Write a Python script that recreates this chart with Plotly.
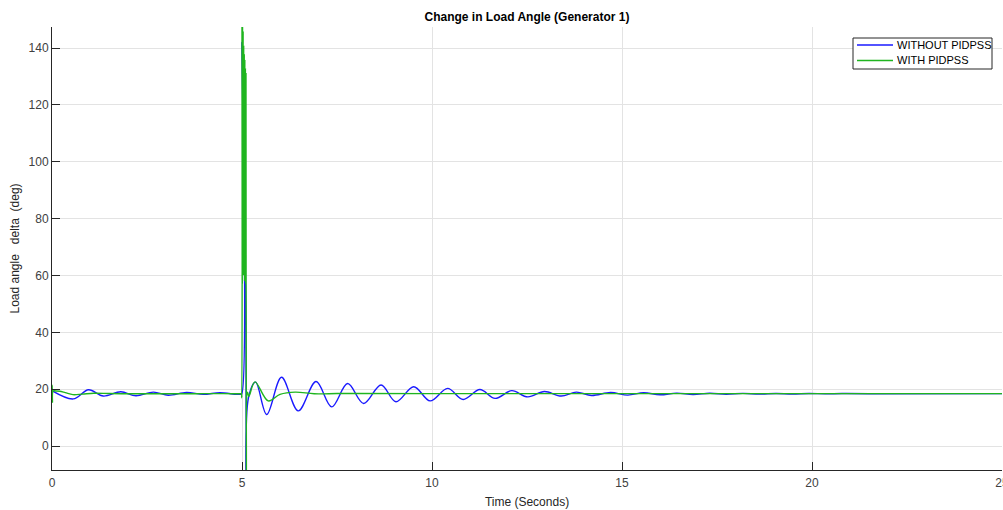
import plotly.graph_objects as go

# ---- data ----
t_without = [0.0, 0.56, 0.96, 1.35, 1.81, 2.21, 2.67, 3.06, 3.54, 3.98, 4.42, 4.86, 4.95, 4.99,
             4.998, 5.05, 5.1, 5.118, 5.17, 5.36, 5.65, 6.04, 6.48, 6.95, 7.36, 7.78, 8.2, 8.66,
             9.05, 9.52, 9.95, 10.41, 10.82, 11.26, 11.66, 12.1, 12.52, 12.96, 13.4, 13.8,
             14.2, 14.7, 15.15, 15.57, 16.0, 16.44, 16.87, 17.31, 17.74, 18.18, 18.61,
             19.05, 19.48, 19.92, 20.35, 20.79, 21.5, 25.0]
v_without = [19.5, 16.6, 19.8, 17.6, 19.1, 17.7, 19.0, 17.9, 18.9, 18.2, 18.8, 18.2, 18.25, 18.3,
             142.0, 90.0, 50.0, -25.0, 17.0, 22.5, 11.1, 24.2, 12.4, 22.7, 13.8, 22.0, 15.0, 21.5,
             15.6, 20.9, 15.9, 20.3, 16.4, 19.9, 16.8, 19.5, 17.3, 19.2, 17.6, 19.0,
             17.8, 18.85, 17.95, 18.75, 18.05, 18.65, 18.15, 18.6, 18.25, 18.55, 18.3,
             18.5, 18.35, 18.5, 18.4, 18.48, 18.42, 18.45]

t_with = [0.0, 0.006, 0.012, 0.03, 0.1, 0.2, 0.35, 0.55, 0.8, 1.1, 1.5, 2.0, 2.5, 3.0, 3.5,
          4.0, 4.5, 4.8, 4.95, 4.985, 4.993,
          5.0, 5.0075, 5.015, 5.0225, 5.03, 5.0375, 5.045, 5.0525, 5.06, 5.0675, 5.075,
          5.0825, 5.09, 5.0975, 5.105, 5.118, 5.145, 5.18, 5.34, 5.69, 6.0, 6.4,
          6.9, 7.5, 8.0, 10.0, 25.0]
v_with = [18.8, 21.4, 15.4, 19.4, 19.4, 19.3, 18.8, 18.1, 18.3, 18.6, 18.5, 18.4, 18.4, 18.4, 18.4,
          18.45, 18.45, 18.4, 18.4, 18.4, 17.0,
          150.0, 57.0, 148.0, 62.0, 146.0, 60.0, 141.0, 65.0, 138.0, 58.0, 136.0,
          62.0, 133.0, 57.0, 131.0, -25.0, 19.0, 17.5, 22.6, 15.9, 18.2, 19.0,
          18.4, 18.5, 18.5, 18.45, 18.45]

x_ticks = [0, 5, 10, 15, 20, 25]
y_ticks = [0, 20, 40, 60, 80, 100, 120, 140]
series_names = ["WITHOUT PIDPSS", "WITH PIDPSS"]
series_colors = ["#1a1aff", "#1fb51f"]

FONT = "Liberation Sans, Arial, Helvetica, sans-serif"
AX = "#262626"
GRID = "#e3e3e3"

fig = go.Figure()
fig.add_trace(go.Scatter(x=t_without, y=v_without, mode="lines", name=series_names[0],
                         showlegend=False,
                         line=dict(color=series_colors[0], width=1.4, shape="spline")))
fig.add_trace(go.Scatter(x=t_with, y=v_with, mode="lines", name=series_names[1],
                         showlegend=False,
                         line=dict(color=series_colors[1], width=1.4, shape="spline")))

# legend box drawn in paper coordinates (plot area: x 52..1002 px, y 27..470 px)
def px(xp):
    return (xp - 52) / 950.0

def py(yp):
    return (470 - yp) / 443.0

shapes = [dict(type="rect", xref="paper", yref="paper", x0=px(853), x1=px(992),
               y0=py(69), y1=py(38), line=dict(color=AX, width=1), fillcolor="white",
               layer="above")]
annotations = []
for i, (nm, col) in enumerate(zip(series_names, series_colors)):
    yy = 45 + 15.5 * i
    shapes.append(dict(type="line", xref="paper", yref="paper", x0=px(857), x1=px(893),
                       y0=py(yy), y1=py(yy), line=dict(color=col, width=1.4), layer="above"))
    annotations.append(dict(text=nm, xref="paper", yref="paper", x=px(895), y=py(yy),
                            xanchor="left", yanchor="middle", showarrow=False,
                            font=dict(size=11, color="#000000", family=FONT)))

fig.update_layout(
    width=1003, height=510,
    margin=dict(l=52, r=1, t=27, b=40, autoexpand=False),
    paper_bgcolor="white", plot_bgcolor="white",
    font=dict(family=FONT, size=12, color=AX),
    title=dict(text="<b>Change in Load Angle (Generator 1)</b>", x=0.5, xref="paper",
               y=1 - 17 / 510, yref="container", yanchor="middle", xanchor="center",
               font=dict(size=12, color="#000000")),
    showlegend=False,
    shapes=shapes,
    annotations=annotations,
)
fig.update_xaxes(range=[0, 25], tickvals=x_ticks, ticktext=[str(v) for v in x_ticks],
                 ticks="inside", ticklen=8, tickcolor=AX, showline=True, linecolor=AX,
                 linewidth=1, showgrid=True, gridcolor=GRID, zeroline=False,
                 automargin=False, ticklabeloverflow="allow", ticklabelstandoff=2,
                 tickfont=dict(size=12, color="#404040"),
                 title=dict(text="Time (Seconds)", font=dict(size=12, color="#262626"), standoff=8))
fig.update_yaxes(range=[-8.4, 147.4], tickvals=y_ticks, ticktext=[str(v) for v in y_ticks],
                 ticks="inside", ticklen=8, tickcolor=AX, showline=True, linecolor=AX,
                 linewidth=1, showgrid=True, gridcolor=GRID, zeroline=False,
                 automargin=False,
                 tickfont=dict(size=12, color="#404040"),
                 title=dict(text="Load angle\u00a0\u00a0 delta\u00a0 (deg)",
                            font=dict(size=12, color="#262626"), standoff=6))

fig.write_html("out.html")
